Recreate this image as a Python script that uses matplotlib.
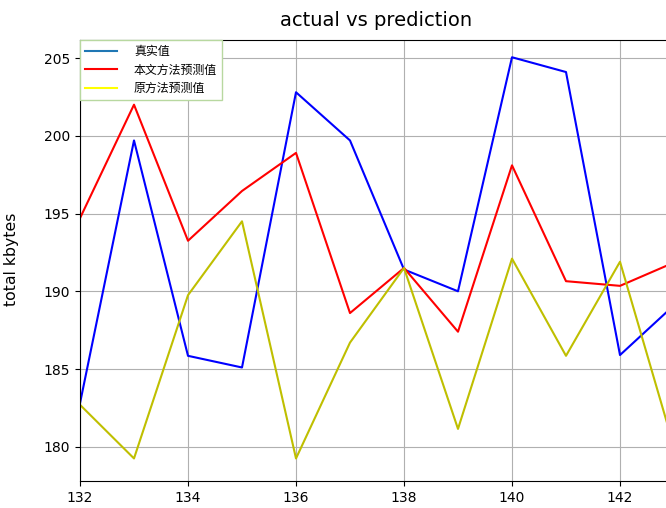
import matplotlib
matplotlib.use("Agg")
import matplotlib.pyplot as plt
from matplotlib.lines import Line2D

plt.rcParams['font.family'] = ['DejaVu Sans']

x = [132, 133, 134, 135, 136, 137, 138, 139, 140, 141, 142, 143]
actual = [182.8, 199.7, 185.85, 185.1, 202.8, 199.7, 191.4, 190.0, 205.05, 204.1, 185.9, 189.1]
proposed = [194.7, 202.0, 193.25, 196.45, 198.9, 188.6, 191.5, 187.4, 198.1, 190.65, 190.35, 191.85]
original = [182.7, 179.25, 189.75, 194.5, 179.25, 186.7, 191.5, 181.15, 192.1, 185.85, 191.9, 180.0]
labels = ['真实值', '本文方法预测值', '原方法预测值']

fig = plt.figure(figsize=(6.66, 5.08), dpi=100)
W, H = 666, 508
left, bottom, top = 80, 481, 40
right = 80 + 54 * 12
ax = fig.add_axes([left / W, 1 - bottom / H, (right - left) / W, (bottom - top) / H])

ax.plot(x, actual, color='blue', lw=1.5)
ax.plot(x, proposed, color='red', lw=1.5)
ax.plot(x, original, color='y', lw=1.5)

ax.set_xlim(132, 144)
ax.set_ylim(177.8, 206.16)
ax.set_xticks([132, 134, 136, 138, 140, 142])
ax.set_yticks([180, 185, 190, 195, 200, 205])
ax.grid(True, color='#b0b0b0', lw=0.8)
ax.tick_params(labelsize=10)
ax.set_ylabel('total kbytes', fontsize=11.3)
ax.yaxis.set_label_coords((19 - 80) / 648, 0.503)
fig.text(376.5 / W, 1 - 20 / H, 'actual vs prediction', ha='center', va='center', fontsize=14)

handles = [Line2D([], [], color='#1f77b4', lw=1.5),
           Line2D([], [], color='red', lw=1.5),
           Line2D([], [], color='yellow', lw=1.5)]
leg = ax.legend(handles, labels, loc='upper left', bbox_to_anchor=(0, 1),
                borderaxespad=0, fancybox=False, framealpha=1,
                prop={'family': ['Noto Sans CJK SC', 'DejaVu Sans'], 'size': 8.6},
                handlelength=2.7, handletextpad=1.4, labelspacing=0.46,
                borderpad=0.42)
leg.get_frame().set_edgecolor('#b8d8a0')
leg.get_frame().set_linewidth(1.0)

fig.savefig('out.png', dpi=100)
